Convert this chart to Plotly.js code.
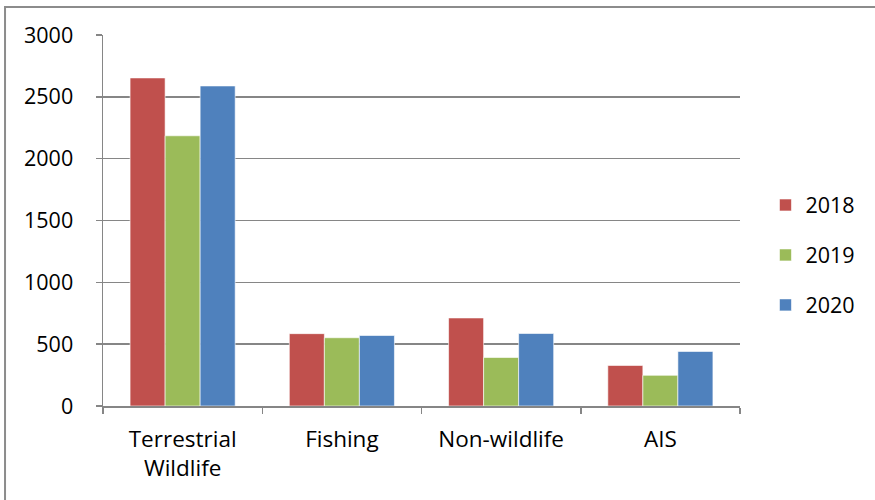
<!DOCTYPE html>
<html>
<head>
<meta charset="utf-8">
<script src="https://cdn.plot.ly/plotly-3.0.1.min.js"></script>
<style>
  html, body { margin: 0; padding: 0; background: #ffffff; }
  #chart { width: 875px; height: 500px; }
</style>
</head>
<body>
<div id="chart"></div>
<script>
// Case counts by category and year
const categories = ["Terrestrial<br>Wildlife", "Fishing", "Non-wildlife", "AIS"];
const years = ["2018", "2019", "2020"];
const values2018 = [2653, 585, 712, 328];
const values2019 = [2185, 552, 392, 248];
const values2020 = [2588, 570, 586, 441];
const yTicks = [0, 500, 1000, 1500, 2000, 2500, 3000];

const colors = ["#c0504d", "#9bbb59", "#4f81bd"];
const seriesValues = [values2018, values2019, values2020];

const FONT = "'Open Sans', 'Noto Sans', sans-serif";
const AXIS_GREY = "#868686";

const traces = years.map((yr, i) => ({
  type: "bar",
  name: yr,
  x: categories,
  y: seriesValues[i],
  legendgroup: yr,
  marker: { color: colors[i], line: { color: "rgba(255,255,255,0.6)", width: 1 } },
  hoverinfo: "x+y+name"
}));

const layout = {
  width: 875,
  height: 500,
  margin: { l: 103, r: 135, t: 35, b: 94, pad: 0 },
  paper_bgcolor: "#ffffff",
  plot_bgcolor: "#ffffff",
  barmode: "group",
  bargap: 0.34,
  bargroupgap: 0,
  font: { family: FONT, size: 21, color: "#000000" },
  xaxis: {
    type: "category",
    showgrid: false,
    showline: true,
    linecolor: AXIS_GREY,
    linewidth: 1.5,
    ticks: "outside",
    tickson: "boundaries",
    ticklen: 6,
    tickcolor: AXIS_GREY,
    tickwidth: 1.5,
    ticklabelstandoff: 12,
    tickfont: { family: FONT, size: 22.5, color: "#000000" },
    fixedrange: true
  },
  yaxis: {
    range: [0, 3000],
    tickvals: yTicks,
    showgrid: true,
    gridcolor: AXIS_GREY,
    gridwidth: 1.5,
    zeroline: false,
    showline: true,
    linecolor: AXIS_GREY,
    linewidth: 1.5,
    ticks: "outside",
    ticklen: 6,
    tickcolor: AXIS_GREY,
    tickwidth: 1.5,
    ticklabelstandoff: 18,
    tickfont: { family: FONT, size: 21.5, color: "#000000" },
    fixedrange: true
  },
  legend: {
    x: 1.04,
    xanchor: "left",
    y: 0.407,
    yanchor: "middle",
    traceorder: "grouped",
    tracegroupgap: 19,
    itemwidth: 30,
    font: { family: FONT, size: 21.5, color: "#000000" },
    bgcolor: "rgba(0,0,0,0)"
  },
  shapes: [{
    type: "rect",
    xref: "paper",
    yref: "paper",
    x0: -0.1538,
    x1: 1.3,
    y0: -0.4,
    y1: 1.0755,
    line: { color: "#8c8c8c", width: 2 },
    fillcolor: "rgba(0,0,0,0)",
    layer: "below"
  }]
};

Plotly.newPlot("chart", traces, layout, { displayModeBar: false, staticPlot: true });
</script>
</body>
</html>
